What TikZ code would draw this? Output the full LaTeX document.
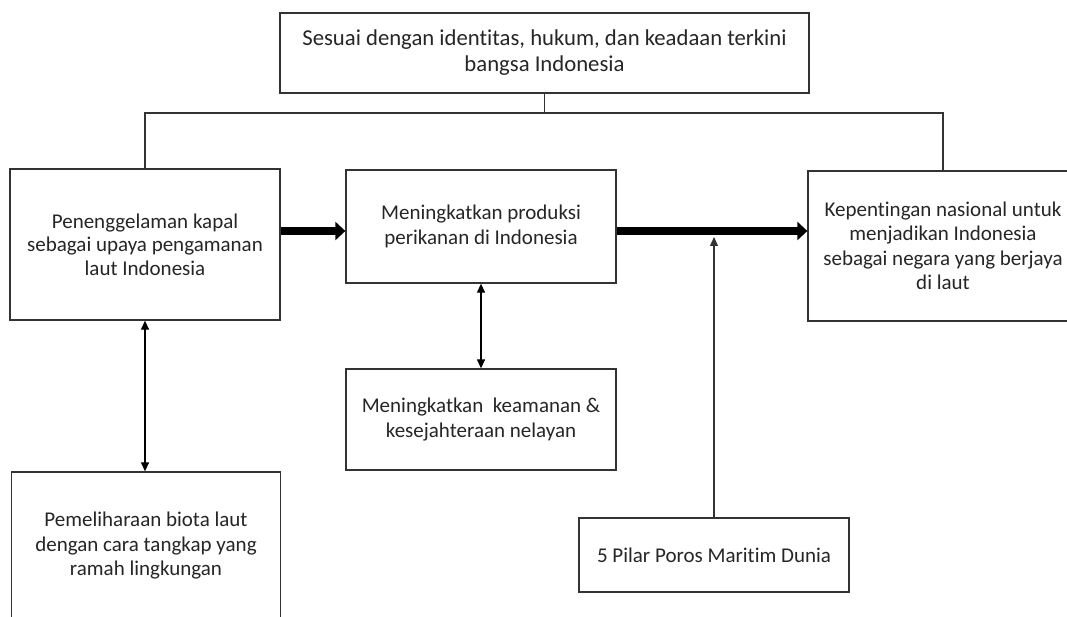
\documentclass[tikz,border=0pt]{standalone}
\usepackage{fontspec}
\setmainfont{Carlito}[Ligatures=NoCommon]
\usetikzlibrary{arrows.meta}
\definecolor{ink}{HTML}{262626}
\definecolor{edge}{HTML}{333333}
\tikzset{
  box/.style={draw=edge, line width=1.3pt, inner sep=0pt, align=center, text=ink,
    font=\fontsize{21}{24.5}\selectfont},
  fat/.style={draw=black, line width=8pt, -{Triangle[length=10pt,width=18pt]}},
  thin/.style={draw=edge, line width=1.3pt},
  both/.style={draw=black, line width=1.2pt, {Triangle[length=9pt,width=8pt]}-{Triangle[length=9pt,width=8pt]}},
  up/.style={draw=edge, line width=1.2pt, -{Triangle[length=9pt,width=8pt]}}
}
\begin{document}
\begin{tikzpicture}[x=1pt,y=-1pt]
\useasboundingbox[fill=white] (0,0) rectangle (1067,617);
\node[box, font=\fontsize{22.7}{26}\selectfont, minimum width=529pt, minimum height=80pt] (top) at (544.5,53)
  {Sesuai dengan identitas, hukum, dan keadaan terkini\\bangsa Indonesia};
\node[box, font=\fontsize{21}{23.5}\selectfont, minimum width=270pt, minimum height=151pt] (left) at (145,244.5)
  {Penenggelaman kapal\\sebagai upaya pengamanan\\laut Indonesia};
\node[box, minimum width=270pt, minimum height=113pt] (mid) at (481,226.5)
  {Meningkatkan produksi\\perikanan di Indonesia};
\node[box, minimum width=270pt, minimum height=150pt] (right) at (943,246)
  {Kepentingan nasional untuk\\menjadikan Indonesia\\sebagai negara yang berjaya\\di laut};
\node[box, minimum width=270pt, minimum height=101pt] (midbot) at (481,419.5)
  {Meningkatkan~ keamanan \&\\kesejahteraan nelayan};
\node[box, minimum width=269pt, minimum height=148pt] (leftbot) at (146,546)
  {Pemeliharaan biota laut\\dengan cara tangkap yang\\ramah lingkungan};
\node[box, minimum width=270pt, minimum height=74pt] (pilar) at (714,555)
  {5 Pilar Poros Maritim Dunia};
\coordinate (bus) at (544.5,113);
\coordinate (axis) at (0,231);
\coordinate (hit) at (714,237);
\draw[thin] (top.south) -- (top.south |- bus);
\draw[thin] (left.north) |- (right.north |- bus) -- (right.north);
\draw[fat] (left.east |- axis) -- (mid.west |- axis);
\draw[fat] (mid.east |- axis) -- (right.west |- axis);
\draw[up] (pilar.north) -- (hit);
\draw[both] (left.south) -- (left.south |- leftbot.north);
\draw[both] (mid.south) -- (midbot.north);
\end{tikzpicture}
\end{document}
